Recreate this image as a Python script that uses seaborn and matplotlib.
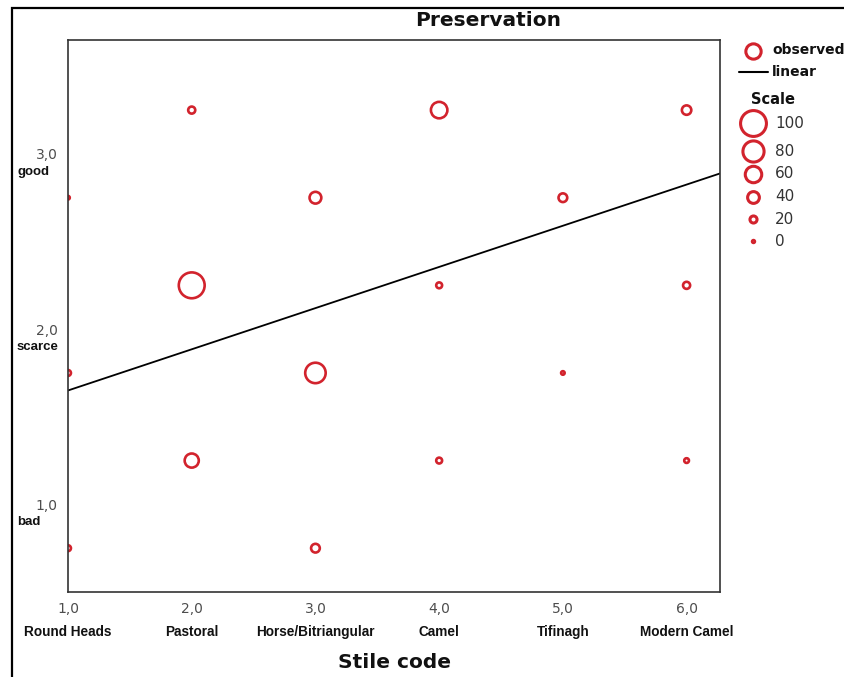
import numpy as np
import pandas as pd
import matplotlib
matplotlib.use("Agg")
import matplotlib.pyplot as plt
import seaborn as sns
from matplotlib.lines import Line2D
from matplotlib.patches import Rectangle

# ---------------- data ----------------
style_code = [1, 1, 1, 2, 2, 2, 3, 3, 3, 4, 4, 4, 5, 5, 6, 6, 6]
preservation = [2.75, 1.75, 0.75, 3.25, 2.25, 1.25, 2.75, 1.75, 0.75,
                3.25, 2.25, 1.25, 2.75, 1.75, 3.25, 2.25, 1.25]
scale_value = [5, 15, 15, 20, 100, 50, 40, 77, 27, 60, 15, 15, 27, 5, 30, 20, 10]

x_ticks = [1, 2, 3, 4, 5, 6]
x_tick_labels = ["1,0", "2,0", "3,0", "4,0", "5,0", "6,0"]
style_names = ["Round Heads", "Pastoral", "Horse/Bitriangular", "Camel",
               "Tifinagh", "Modern Camel"]
y_ticks = [1, 2, 3]
y_tick_labels = ["1,0", "2,0", "3,0"]
level_names = ["bad", "scarce", "good"]

fit_intercept = 1.415
fit_slope = 0.235

legend_scale = [100, 80, 60, 40, 20, 0]

# ---------------- style ----------------
W, H, DPI = 844, 677, 100
RED = "#d2232d"
LW_PT = 1.9
LW_PX = LW_PT * DPI / 72
NARROW = ["Liberation Sans Narrow", "Liberation Sans", "DejaVu Sans"]

sns.set_style("white")
plt.rcParams["font.family"] = ["DejaVu Sans"]


def outer_px(v):
    return 5.0 + 0.235 * v


def marker_pt(v):
    return max(outer_px(v) - LW_PX, 0.8) * 72 / DPI


def fx(px):
    return px / W


def fy(py):
    return 1 - py / H


df = pd.DataFrame({"code": style_code, "pres": preservation, "scale": scale_value})
sizes = {v: marker_pt(v) ** 2 for v in sorted(set(scale_value))}

fig = plt.figure(figsize=(W / DPI, H / DPI), dpi=DPI)
ax = fig.add_axes([fx(68), fy(592), (720 - 68) / W, (592 - 40) / H])

sns.scatterplot(data=df, x="code", y="pres", size="scale", sizes=sizes,
                legend=False, ax=ax, marker="o")
coll = ax.collections[0]
coll.set_facecolor("none")
coll.set_edgecolor(RED)
coll.set_linewidth(LW_PT)

x_min, x_max = 1.0, 6.27
line_x = np.array([x_min, x_max])
sns.lineplot(x=line_x, y=fit_intercept + fit_slope * line_x, color="black",
             linewidth=1.3, ax=ax)

ax.set_xlim(x_min, x_max)
ax.set_ylim(0.5, 3.65)
ax.set_xticks(x_ticks)
ax.set_xticklabels(x_tick_labels)
ax.set_yticks(y_ticks)
ax.set_yticklabels(y_tick_labels)
ax.set_xlabel("")
ax.set_ylabel("")
for s in ax.spines.values():
    s.set_color("#333333")
    s.set_linewidth(1.2)
    s.set_visible(True)
ax.tick_params(axis="both", direction="out", length=4, width=1, color="#333333",
               labelcolor="#4d4d4d", labelsize=10, pad=3.5)

# category labels under x ticks
for xv, name in zip(x_ticks, style_names):
    ax.annotate(name, xy=(xv, 0), xycoords=("data", "axes fraction"),
                xytext=(0, -40), textcoords="offset pixels", ha="center",
                va="center", fontsize=9.8, fontweight="bold", family=NARROW,
                color="#111111", annotation_clip=False)

# level labels under y ticks
for yv, name in zip(y_ticks, level_names):
    ax.annotate(name, xy=(fx(17), yv), xycoords=("figure fraction", "data"),
                xytext=(0, -18), textcoords="offset pixels", ha="left",
                va="center", fontsize=9.5, fontweight="bold", family=NARROW,
                color="#111111", annotation_clip=False)

fig.text(fx(394), fy(663), "Stile code", ha="center", va="center",
         fontsize=14.5, fontweight="bold", color="#111111")
fig.text(fx(488), fy(20), "Preservation", ha="center", va="center",
         fontsize=14.5, fontweight="bold", color="#111111")

# ---------------- legend (manual) ----------------
fig.add_artist(Line2D([fx(753)], [fy(51)], marker="o", linestyle="none",
                      markersize=marker_pt(55), mfc="none", mec=RED, mew=LW_PT + 0.3,
                      transform=fig.transFigure))
fig.text(fx(772), fy(50), "observed", ha="left", va="center", fontsize=10,
         fontweight="bold", color="#111111")
fig.add_artist(Line2D([fx(739), fx(768)], [fy(72), fy(72)], color="black",
                      linewidth=1.5, transform=fig.transFigure))
fig.text(fx(772), fy(72), "linear", ha="left", va="center", fontsize=10,
         fontweight="bold", color="#111111")
fig.text(fx(773), fy(99), "Scale", ha="center", va="center", fontsize=10.5,
         fontweight="bold", color="#111111")
leg_y = [123, 151, 174, 197, 219, 241]
for v, py in zip(legend_scale, leg_y):
    fig.add_artist(Line2D([fx(753)], [fy(py)], marker="o", linestyle="none",
                          markersize=marker_pt(v), mfc="none", mec=RED,
                          mew=LW_PT + 0.3, transform=fig.transFigure))
    fig.text(fx(775), fy(py), str(v), ha="left", va="center", fontsize=11,
             color="#333333")

# outer frame
fig.add_artist(Rectangle((fx(12), -0.5), 2, fy(8) + 0.5, transform=fig.transFigure,
                         fill=False, edgecolor="black", linewidth=1.6, clip_on=False))

fig.savefig("out.png", dpi=DPI)
